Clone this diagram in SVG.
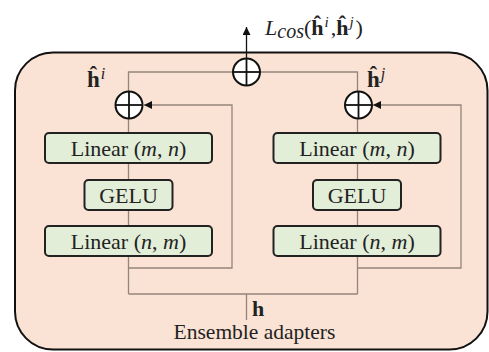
<svg xmlns="http://www.w3.org/2000/svg" width="489" height="352" viewBox="0 0 489 352">
  <defs>
    <marker id="arrow" viewBox="0 0 10 10" refX="10" refY="5" markerWidth="8" markerHeight="8" markerUnits="userSpaceOnUse" orient="auto">
      <path d="M0,0 L10,5 L0,10 Z" fill="#111"/>
    </marker>
    <style>
      text { font-family: "Liberation Serif", "Times New Roman", serif; fill: #222; }
      .layer { fill: #e2eed8; stroke: #222; stroke-width: 2; }
      .lbl { font-size: 22px; text-anchor: middle; }
      .wire { fill: none; stroke: #958579; stroke-width: 1.3; }
      .sum circle { fill: #fff; stroke: #111; stroke-width: 2; }
      .sum line { stroke: #111; stroke-width: 1.8; }
      .bold { font-weight: bold; }
      .it { font-style: italic; }
    </style>
  </defs>

  <!-- ensemble container -->
  <rect id="container" x="15" y="52.5" width="472.5" height="297" rx="38" ry="38" fill="#fae2d4" stroke="#111" stroke-width="2"/>

  <!-- connectors -->
  <g id="connectors">
    <!-- main paths through each adapter -->
    <path class="wire" d="M128.5,294 V72 H357.5 V294"/>
    <!-- input h split -->
    <path class="wire" d="M128.5,294 H357.5 M246.5,294 V320"/>
    <!-- residual skips -->
    <path class="wire" d="M128.5,268 H232 V105 H144" marker-end="url(#arrow)"/>
    <path class="wire" d="M357.5,268 H461 V105 H373" marker-end="url(#arrow)"/>
    <!-- loss output -->
    <path d="M246.5,58 V27" stroke="#111" stroke-width="1.3" fill="none" marker-end="url(#arrow)"/>
  </g>

  <!-- left adapter -->
  <g id="adapter-i">
    <g id="sum-i" class="sum">
      <circle cx="129" cy="105" r="13.5"/>
      <line x1="115.5" y1="105" x2="142.5" y2="105"/>
      <line x1="129" y1="91.5" x2="129" y2="118.5"/>
    </g>
    <g id="linear-mn-i">
      <rect class="layer" x="45" y="133" width="167" height="30" rx="4"/>
      <text class="lbl" x="128.5" y="155.5">Linear (<tspan class="it">m</tspan>, <tspan class="it">n</tspan>)</text>
    </g>
    <g id="gelu-i">
      <rect class="layer" x="84.5" y="180" width="88" height="30" rx="4"/>
      <text class="lbl" x="128.5" y="202.5">GELU</text>
    </g>
    <g id="linear-nm-i">
      <rect class="layer" x="45" y="226" width="167" height="30" rx="4"/>
      <text class="lbl" x="128.5" y="248.5">Linear (<tspan class="it">n</tspan>, <tspan class="it">m</tspan>)</text>
    </g>
    <text id="hat-i" x="87" y="87" font-size="23"><tspan class="bold">ĥ</tspan><tspan class="it" font-size="16" dx="1" dy="-8">i</tspan></text>
  </g>

  <!-- right adapter -->
  <g id="adapter-j">
    <g id="sum-j" class="sum">
      <circle cx="358.5" cy="105" r="13.5"/>
      <line x1="345" y1="105" x2="372" y2="105"/>
      <line x1="358.5" y1="91.5" x2="358.5" y2="118.5"/>
    </g>
    <g id="linear-mn-j">
      <rect class="layer" x="273.5" y="133" width="167" height="30" rx="4"/>
      <text class="lbl" x="357" y="155.5">Linear (<tspan class="it">m</tspan>, <tspan class="it">n</tspan>)</text>
    </g>
    <g id="gelu-j">
      <rect class="layer" x="313" y="180" width="88" height="30" rx="4"/>
      <text class="lbl" x="357" y="202.5">GELU</text>
    </g>
    <g id="linear-nm-j">
      <rect class="layer" x="273.5" y="226" width="167" height="30" rx="4"/>
      <text class="lbl" x="357" y="248.5">Linear (<tspan class="it">n</tspan>, <tspan class="it">m</tspan>)</text>
    </g>
    <text id="hat-j" x="367" y="87" font-size="23"><tspan class="bold">ĥ</tspan><tspan class="it" font-size="16" dx="1" dy="-8">j</tspan></text>
  </g>

  <!-- combining sum -->
  <g id="sum-out" class="sum">
    <circle cx="246.5" cy="72" r="13.5"/>
    <line x1="233" y1="72" x2="260" y2="72"/>
    <line x1="246.5" y1="58.5" x2="246.5" y2="85.5"/>
  </g>

  <!-- loss label -->
  <text id="loss" x="265" y="35" font-size="22"><tspan class="it">L</tspan><tspan class="it" font-size="20" dy="3">cos</tspan><tspan dy="-3">(</tspan><tspan class="bold">ĥ</tspan><tspan class="it" font-size="15" dx="1" dy="-8">i</tspan><tspan dx="2" dy="8">,</tspan><tspan class="bold">ĥ</tspan><tspan class="it" font-size="15" dx="1" dy="-8">j</tspan><tspan dx="2" dy="8">)</tspan></text>

  <!-- input -->
  <g id="input">
    <text x="252" y="316" font-size="22" class="bold">h</text>
    <text class="lbl" x="254.5" y="339" font-size="21.5" style="font-size:21.5px">Ensemble adapters</text>
  </g>
</svg>
